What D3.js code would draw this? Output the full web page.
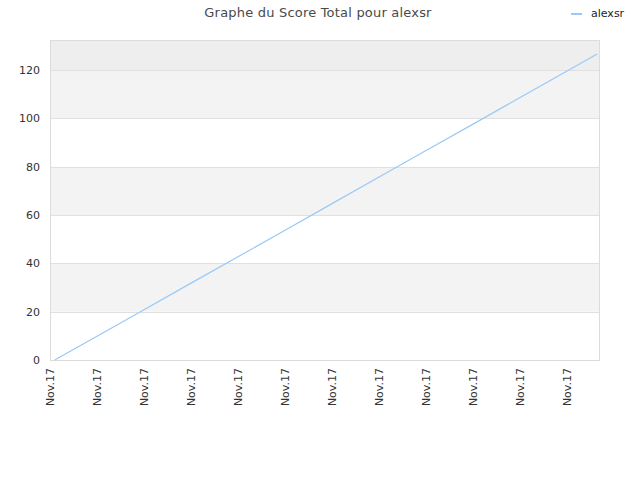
<!DOCTYPE html>
<html>
<head>
<meta charset="utf-8">
<script src="https://cdn.jsdelivr.net/npm/d3@7.9.0/dist/d3.min.js"></script>
<style>
  body { margin: 0; background: #fff; }
  text { font-family: "DejaVu Sans", sans-serif; }
</style>
</head>
<body>
<svg id="chart" width="640" height="480"></svg>
<script>
// Data
const tickLabels = ["Nov.17", "Nov.17", "Nov.17", "Nov.17", "Nov.17", "Nov.17",
                    "Nov.17", "Nov.17", "Nov.17", "Nov.17", "Nov.17", "Nov.17"];
const pointPos = [0.1, 1, 2, 3, 4, 5, 6, 7, 8, 9, 10, 11, 11.64];
const scores   = [0, 9.8, 20.8, 31.8, 42.7, 53.7, 64.7, 75.7, 86.7, 97.6, 108.6, 119.6, 126.6];
const yTicks = [0, 20, 40, 60, 80, 100, 120];
const seriesName = "alexsr";

const svg = d3.select('#chart');
const plotLeft = 50, plotRight = 600, plotTop = 40, plotBottom = 360;

const x = d3.scaleLinear().domain([0, 11.7]).range([plotLeft, plotRight]);
const y = d3.scaleLinear().domain([0, 132.4]).range([plotBottom, plotTop]);

// alternating bands
const bands = [];
for (let i = 0; i < yTicks.length; i++) {
  const lo = yTicks[i];
  const hi = i + 1 < yTicks.length ? yTicks[i + 1] : y.domain()[1];
  bands.push({ lo, hi, i });
}
svg.selectAll('rect.band')
  .data(bands)
  .join('rect')
  .attr('x', plotLeft)
  .attr('width', plotRight - plotLeft)
  .attr('y', d => y(d.hi))
  .attr('height', d => y(d.lo) - y(d.hi))
  .attr('fill', d => d.i === yTicks.length - 1 ? '#eeeeee' : (d.i % 2 === 1 ? '#f3f3f3' : '#ffffff'));

// grid lines
svg.selectAll('line.grid')
  .data(yTicks.slice(1))
  .join('line')
  .attr('x1', plotLeft).attr('x2', plotRight)
  .attr('y1', d => Math.round(y(d)) + 0.5).attr('y2', d => Math.round(y(d)) + 0.5)
  .attr('stroke', '#e0e0e0');

// frame
svg.append('rect')
  .attr('x', plotLeft + 0.5).attr('y', plotTop + 0.5)
  .attr('width', plotRight - plotLeft - 1).attr('height', plotBottom - plotTop)
  .attr('fill', 'none')
  .attr('stroke', '#dcdcdc');

// y axis labels
const yAxis = svg.append('g')
  .attr('transform', `translate(${plotLeft},0)`)
  .call(d3.axisLeft(y).tickValues(yTicks).tickSize(0).tickPadding(10));
yAxis.select('.domain').remove();
yAxis.selectAll('text')
  .attr('font-family', '"DejaVu Sans", sans-serif')
  .attr('font-size', 11)
  .attr('fill', '#333');

// x axis labels
const xAxis = svg.append('g')
  .attr('transform', `translate(0,${plotBottom})`)
  .call(d3.axisBottom(x).tickValues(d3.range(tickLabels.length))
    .tickFormat((d, i) => tickLabels[i]).tickSize(0));
xAxis.select('.domain').remove();
xAxis.selectAll('text')
  .attr('font-family', '"DejaVu Sans", sans-serif')
  .attr('font-size', 11)
  .attr('fill', '#333')
  .attr('text-anchor', 'end')
  .attr('transform', 'rotate(-90)')
  .attr('x', -8)
  .attr('y', 0)
  .attr('dy', '0.35em');

// line
const line = d3.line()
  .x((d, i) => x(pointPos[i]))
  .y(d => y(d));
svg.append('path')
  .datum(scores)
  .attr('d', line)
  .attr('fill', 'none')
  .attr('stroke', '#99c9f7')
  .attr('stroke-width', 1.2);

// title
svg.append('text')
  .attr('x', 318).attr('y', 17)
  .attr('text-anchor', 'middle')
  .attr('font-size', 13)
  .attr('letter-spacing', 0.2)
  .attr('fill', '#4a4a4a')
  .text('Graphe du Score Total pour ' + seriesName);

// legend
svg.append('line')
  .attr('x1', 571).attr('x2', 582)
  .attr('y1', 14).attr('y2', 14)
  .attr('stroke', '#99c9f7').attr('stroke-width', 2);
svg.append('text')
  .attr('x', 591).attr('y', 17)
  .attr('font-family', '"Liberation Sans", sans-serif')
  .attr('font-size', 11)
  .attr('fill', '#222')
  .text(seriesName);
</script>
</body>
</html>
